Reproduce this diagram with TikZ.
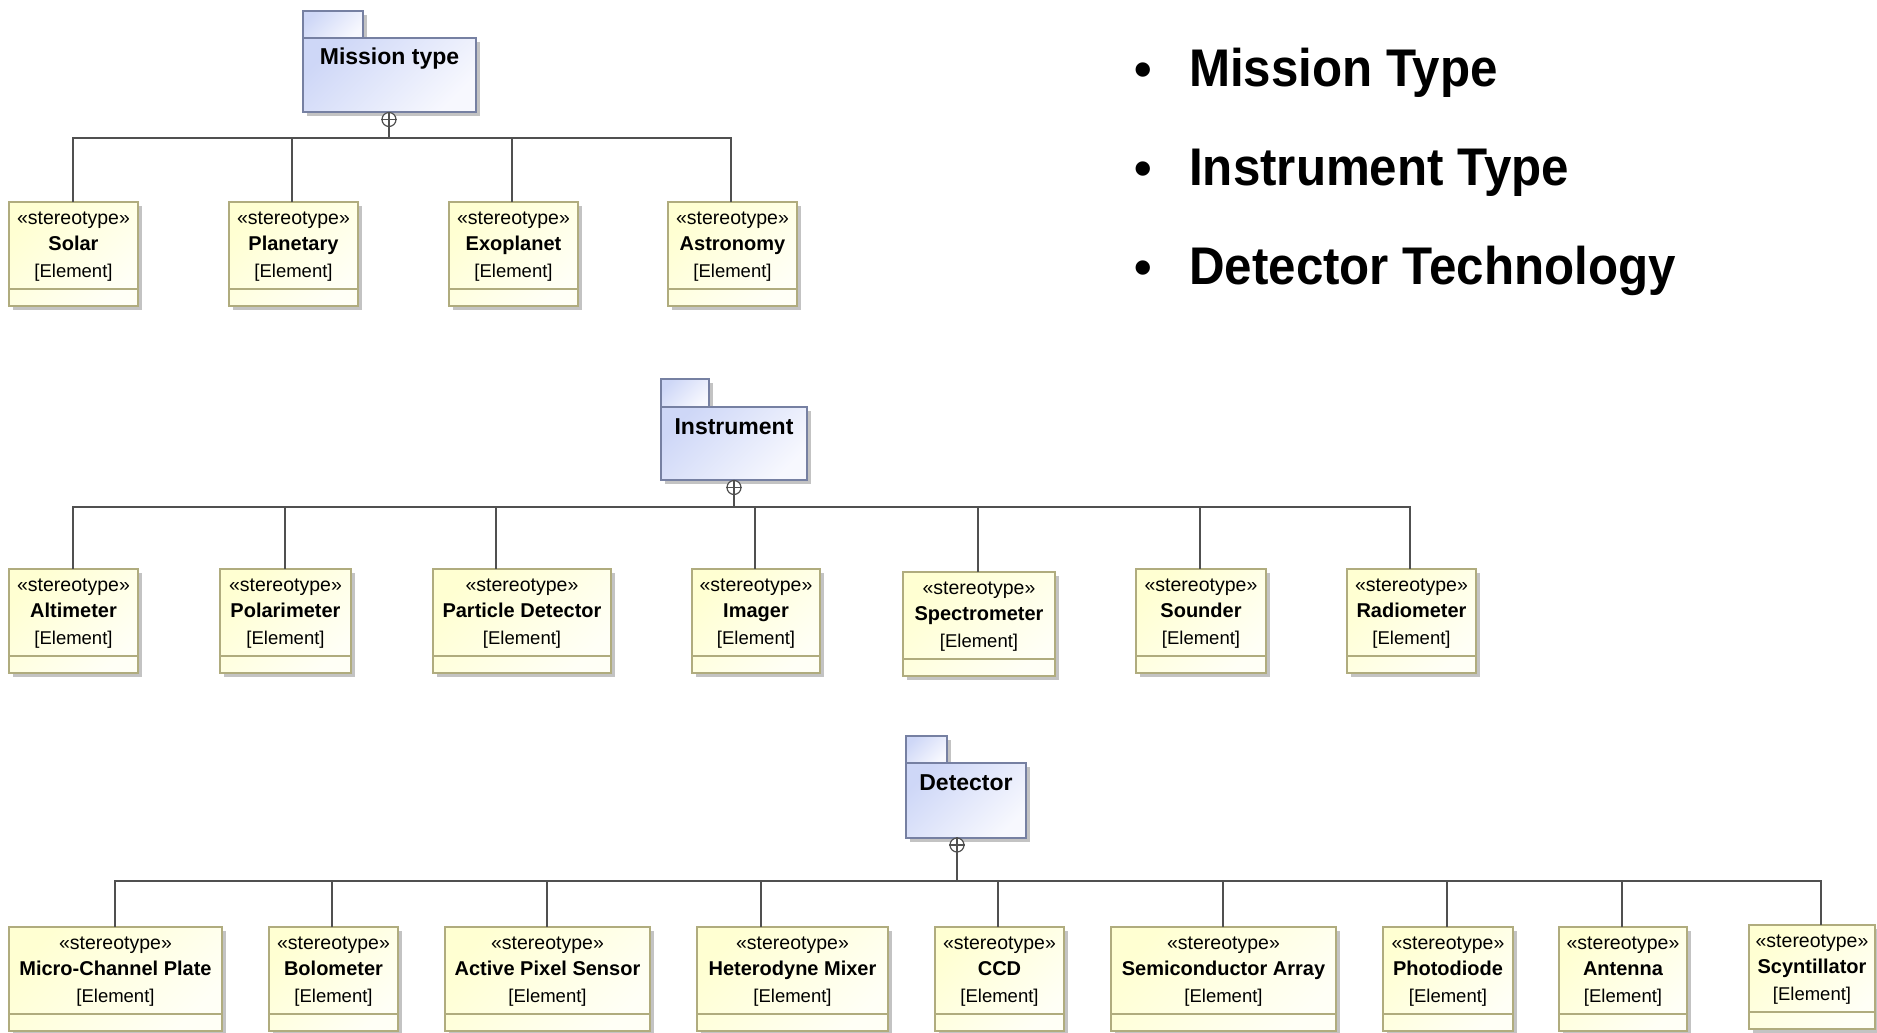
\documentclass[tikz,border=0pt]{standalone}
\usepackage{fontspec}
\usepackage{graphicx}
\setmainfont{Liberation Sans}
\usetikzlibrary{calc,shadows}

\definecolor{clsborder}{RGB}{176,172,126}
\definecolor{clsfillA}{RGB}{255,255,210}
\definecolor{clsfillB}{RGB}{255,255,246}
\definecolor{pkgborder}{RGB}{118,128,162}
\definecolor{pkgfillA}{RGB}{206,215,247}
\definecolor{pkgfillB}{RGB}{247,248,254}
\definecolor{connline}{RGB}{80,80,80}
\definecolor{shadowgray}{RGB}{175,175,175}

\tikzset{
  softshadow/.style={drop shadow={shadow xshift=4pt, shadow yshift=-4pt, fill=shadowgray, opacity=0.75}},
  clsnode/.style={draw=clsborder, line width=1.4pt, top color=clsfillA, bottom color=clsfillB,
    shading angle=45, inner sep=0pt, outer sep=0pt, minimum height=104pt, softshadow},
  clsdivider/.style={draw=clsborder, line width=1.4pt},
  stereo/.style={font=\fontsize{19.5}{22}\selectfont, inner sep=0pt, anchor=base},
  clsname/.style={font=\bfseries\fontsize{20}{23}\selectfont, inner sep=0pt, anchor=base},
  elemtag/.style={font=\fontsize{18.5}{22}\selectfont, inner sep=0pt, anchor=base},
  pkgnode/.style={draw=pkgborder, line width=1.3pt, top color=pkgfillA, bottom color=pkgfillB,
    shading angle=45, inner sep=0pt, outer sep=0pt, softshadow},
  pkgtitle/.style={font=\bfseries\fontsize{23}{26}\selectfont, inner sep=0pt, anchor=base},
  ownership/.style={circle, draw=connline, fill=white, line width=1.2pt, minimum size=14pt, inner sep=0pt},
  conn/.style={draw=connline, line width=1.3pt},
  bullettext/.style={font=\bfseries\fontsize{53}{60}\selectfont, inner sep=0pt, anchor=base west},
  bulletdot/.style={font=\bfseries\fontsize{50}{60}\selectfont, inner sep=0pt, anchor=base},
}

% condensed heading text of the bullet list
\newcommand\narrowtext[1]{\scalebox{0.93}[1]{#1}}

% #1 node name, #2 left x, #3 right x, #4 top y, #5 connector x, #6 element name
\newcommand\umlclass[6]{%
  \node[clsnode, anchor=north west, minimum width={#3pt-#2pt}] (#1) at (#2,#4) {};
  \path (#1.north) ++(0,22.5) node[stereo] {«stereotype»}
                   ++(0,26) node[clsname] {#6}
                   ++(0,26.5) node[elemtag] {[Element]};
  \draw[clsdivider] ($(#1.north west)+(0,87)$) -- ($(#1.north east)+(0,87)$);
  \coordinate (#1-c) at (#5,#4);
}

% #1 name, #2 left, #3 right, #4 body top, #5 body bottom, #6 tab right, #7 tab top, #8 title
\newcommand\umlpackage[8]{%
  \node[pkgnode, anchor=south west, minimum width={#6pt-#2pt}, minimum height={#4pt-#7pt}]
    (#1-tab) at (#2,#4) {};
  \node[pkgnode, anchor=north west, minimum width={#3pt-#2pt}, minimum height={#5pt-#4pt}]
    (#1) at (#2,#4) {};
  \node[pkgtitle] at ($(#1.north)+(0,27)$) {#8};
}

\begin{document}
\begin{tikzpicture}[x=1pt, y=-1pt]
  \fill[white] (0,0) rectangle (1877,1033);
  \useasboundingbox (0,0) rectangle (1877,1033);

  % ---------- Mission type ----------
  \coordinate (bus1) at (0,138);
  \umlclass{solar}{9}{138}{202}{73}{Solar}
  \umlclass{planetary}{229}{358}{202}{292}{Planetary}
  \umlclass{exoplanet}{449}{578}{202}{512}{Exoplanet}
  \umlclass{astronomy}{668}{797}{202}{731}{Astronomy}
  \umlpackage{mission}{303}{476}{38}{112}{363}{11}{Mission type}
  \node[ownership] (mission-own) at (389,119.5) {};
  \draw[conn] (mission-own.north) -- (mission-own.south) (mission-own.west) -- (mission-own.east);
  \foreach \c in {solar,planetary,exoplanet,astronomy}
    \draw[conn] (mission-own.south) -- (mission-own.south |- bus1) -| (\c-c);

  % ---------- Instrument ----------
  \coordinate (bus2) at (0,507);
  \umlclass{altimeter}{9}{138}{569}{73}{Altimeter}
  \umlclass{polarimeter}{220}{351}{569}{285}{Polarimeter}
  \umlclass{particle}{433}{611}{569}{496}{Particle Detector}
  \umlclass{imager}{692}{820}{569}{755}{Imager}
  \umlclass{spectrometer}{903}{1055}{572}{978}{Spectrometer}
  \umlclass{sounder}{1136}{1266}{569}{1200}{Sounder}
  \umlclass{radiometer}{1347}{1476}{569}{1410}{Radiometer}
  \umlpackage{instrument}{661}{807}{407}{480}{709}{379}{Instrument}
  \node[ownership] (instrument-own) at (734,487.5) {};
  \draw[conn] (instrument-own.north) -- (instrument-own.south) (instrument-own.west) -- (instrument-own.east);
  \foreach \c in {altimeter,polarimeter,particle,imager,spectrometer,sounder,radiometer}
    \draw[conn] (instrument-own.south) -- (instrument-own.south |- bus2) -| (\c-c);

  % ---------- Detector ----------
  \coordinate (bus3) at (0,881);
  \umlclass{mcp}{9}{222}{927}{115}{Micro-Channel Plate}
  \umlclass{bolometer}{269}{398}{927}{332}{Bolometer}
  \umlclass{aps}{445}{650}{927}{547}{Active Pixel Sensor}
  \umlclass{hetero}{697}{888}{927}{761}{Heterodyne Mixer}
  \umlclass{ccd}{935}{1064}{927}{998}{CCD}
  \umlclass{semi}{1111}{1336}{927}{1223}{Semiconductor Array}
  \umlclass{photo}{1383}{1513}{927}{1447}{Photodiode}
  \umlclass{antenna}{1559}{1687}{927}{1622}{Antenna}
  \umlclass{scynt}{1749}{1875}{925}{1821}{Scyntillator}
  \umlpackage{detector}{906}{1026}{763}{838}{947}{736}{Detector}
  \node[ownership] (detector-own) at (957,845) {};
  \draw[conn] (detector-own.north) -- (detector-own.south) (detector-own.west) -- (detector-own.east);
  \foreach \c in {mcp,bolometer,aps,hetero,ccd,semi,photo,antenna,scynt}
    \draw[conn] (detector-own.south) -- (detector-own.south |- bus3) -| (\c-c);

  % ---------- bullet list ----------
  \node[bulletdot] (dot1) at (1143,87) {•};
  \node[bullettext] (item1) at (1189,87) {\narrowtext{Mission Type}};
  \node[bulletdot] (dot2) at (1143,185) {•};
  \node[bullettext] (item2) at (1189,185) {\narrowtext{Instrument Type}};
  \node[bulletdot] (dot3) at (1143,284) {•};
  \node[bullettext] (item3) at (1189,284) {\narrowtext{Detector Technology}};
\end{tikzpicture}
\end{document}
